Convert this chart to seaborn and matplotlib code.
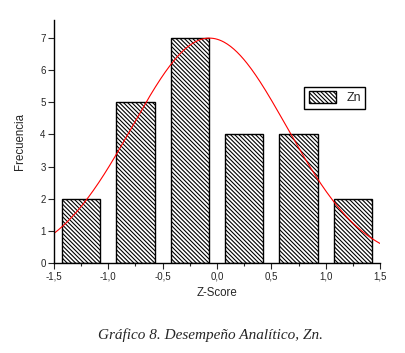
import matplotlib
matplotlib.use("Agg")
import matplotlib.pyplot as plt
from matplotlib.patches import Patch
from matplotlib.ticker import MultipleLocator, FuncFormatter
import numpy as np
import seaborn as sns

# Data
bin_centers = [-1.25, -0.75, -0.25, 0.25, 0.75, 1.25]
frequencies = [2, 5, 7, 4, 4, 2]
series_label = "Zn"
# Normal fit parameters
fit_mu = -0.07
fit_sigma = 0.71
fit_peak = 7.0
x_ticks = [-1.5, -1.0, -0.5, 0.0, 0.5, 1.0, 1.5]
y_ticks = [0, 1, 2, 3, 4, 5, 6, 7]

sns.set_style("ticks")
plt.rcParams['font.family'] = ['Liberation Sans', 'DejaVu Sans']
plt.rcParams['hatch.linewidth'] = 0.8

HATCH = "\\" * 8

fig = plt.figure(figsize=(4.05, 3.53), dpi=100)
ax = fig.add_axes([0.1333, 0.255, 0.805, 0.688])

sns.barplot(x=bin_centers, y=frequencies, native_scale=True, width=0.7,
            color="white", edgecolor="black", linewidth=1.0, ax=ax,
            errorbar=None)
for p in ax.patches:
    p.set_facecolor("white")
    p.set_hatch(HATCH)
    p.set_edgecolor("black")

xs = np.linspace(-1.5, 1.5, 300)
ys = fit_peak * np.exp(-((xs - fit_mu) ** 2) / (2 * fit_sigma ** 2))
sns.lineplot(x=xs, y=ys, color="red", linewidth=0.8, ax=ax)

ax.set_xlim(-1.5, 1.5)
ax.set_ylim(0, 7.56)
ax.set_xticks(x_ticks)
ax.set_yticks(y_ticks)
ax.xaxis.set_minor_locator(MultipleLocator(0.25))
ax.xaxis.set_major_formatter(FuncFormatter(lambda v, p: f"{v:.1f}".replace(".", ",").replace("-0,0", "0,0")))
ax.tick_params(axis="both", which="major", direction="out", length=4, width=0.8, labelsize=7, pad=2)
ax.tick_params(axis="x", which="minor", direction="out", length=2, width=0.8)
for s in ["top", "right"]:
    ax.spines[s].set_visible(False)
for s in ["left", "bottom"]:
    ax.spines[s].set_linewidth(1.0)
    ax.spines[s].set_color("black")

ax.set_xlabel("Z-Score", fontsize=8.3, labelpad=4)
ax.set_ylabel("Frecuencia", fontsize=8.3, labelpad=10)

handle = Patch(facecolor="white", edgecolor="black", hatch=HATCH, label=series_label)
leg = ax.legend(handles=[handle], loc="upper left", bbox_to_anchor=(0.749, 0.75),
                fontsize=9, frameon=True, fancybox=False, framealpha=1,
                handlelength=2.2, handleheight=1.0, borderpad=0.35)
leg.get_frame().set_edgecolor("black")
leg.get_frame().set_linewidth(1.0)

fig.text(0.52, 0.05, "Gráfico 8. Desempeño Analítico, Zn.", ha="center", va="center",
         fontsize=11, style="italic", family=["Liberation Serif", "DejaVu Serif"])

fig.savefig("out.png", dpi=100)
